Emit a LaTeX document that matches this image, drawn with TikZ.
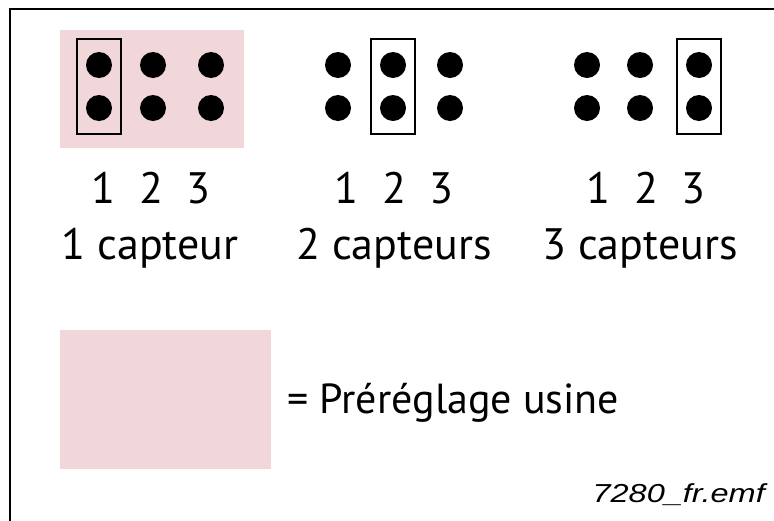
\documentclass[tikz,border=0pt]{standalone}
\usepackage{fontspec}
\setmainfont{PT Sans}
\newfontfamily\capfont[FakeStretch=1.25]{Liberation Sans}
\definecolor{factpink}{RGB}{242,215,218}
\usetikzlibrary{positioning,fit}

\begin{document}
\begin{tikzpicture}[x=1pt, y=-1pt,
  pin/.style={circle, fill=black, inner sep=0pt, minimum size=26pt},
  jumper/.style={draw=black, line width=1.8pt, inner xsep=8.5pt, inner ysep=12.5pt},
  bigtext/.style={font=\fontsize{44}{48}\selectfont, inner sep=0pt, anchor=base}]
  \useasboundingbox[fill=white] (0,0) rectangle (774,520);

  %--- frame ---
  \draw[line width=2pt] (10,530) |- (790,9);

  %--- factory preset shading ---
  \fill[factpink] (60,30) rectangle (244,148);

  %--- pin headers ---
  \foreach \g/\xa/\xb/\xc/\mid in {a/99/153/211/151, b/338/393/450/394, c/587/640/699/646} {
    \node[pin] (\g1t) at (\xa,65) {};
    \node[pin] (\g1b) at (\xa,108) {};
    \node[pin] (\g2t) at (\xb,65) {};
    \node[pin] (\g2b) at (\xb,108) {};
    \node[pin] (\g3t) at (\xc,65) {};
    \node[pin] (\g3b) at (\xc,108) {};
    \node[bigtext] (\g n1) at (\mid-48,203) {1};
    \node[bigtext] (\g n2) at (\mid,203) {2};
    \node[bigtext] (\g n3) at (\mid+47,203) {3};
  }

  %--- jumpers ---
  \node[jumper, fit=(a1t)(a1b)] (jmpa) {};
  \node[jumper, fit=(b2t)(b2b)] (jmpb) {};
  \node[jumper, fit=(c3t)(c3b)] (jmpc) {};

  %--- labels ---
  \node[bigtext] (one) at (150,259) {1 capteur};
  \node[bigtext] (two) at (394,259) {2 capteurs};
  \node[bigtext] (three) at (640,259) {3 capteurs};

  %--- legend ---
  \fill[factpink] (60,330) rectangle (271,469);
  \node[bigtext, font=\fontsize{42}{46}\selectfont, anchor=base west] (legend) at (287,413) {= Préréglage usine};

  \node[font=\capfont\itshape\fontsize{26}{28}\selectfont, inner sep=0pt, anchor=base east] (file) at (765,502) {7280\_fr.emf};
\end{tikzpicture}
\end{document}
